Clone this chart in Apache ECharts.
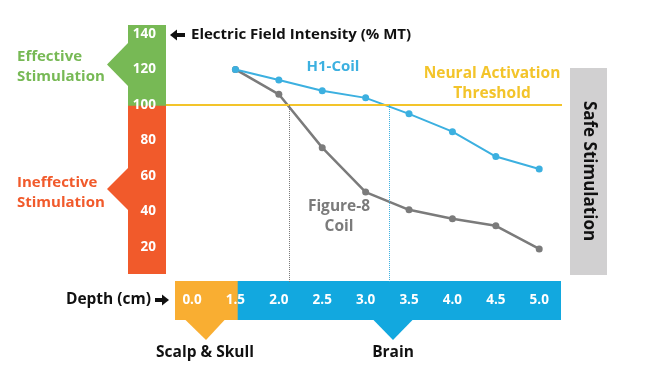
<!DOCTYPE html>
<html>
<head>
<meta charset="utf-8">
<script src="https://cdn.jsdelivr.net/npm/echarts@6/dist/echarts.min.js"></script>
<style>
html,body{margin:0;padding:0;background:#fff}
#chart{width:653px;height:376px}
</style>
</head>
<body>
<div id="chart"></div>
<script>
// depth categories (cm), index used as x position
var depthLabels = ['0.0', '1.5', '2.0', '2.5', '3.0', '3.5', '4.0', '4.5', '5.0'];
var yTicks = [20, 40, 60, 80, 100, 120, 140];
var h1Coil = [null, 120, 114, 108, 104, 95, 85, 71, 64];
var fig8Coil = [null, 120, 106, 76, 51, 41, 36, 32, 19];
var threshold = 100;
// where each coil falls below threshold (x index)
var fig8Cross = 2.23;
var h1Cross = 4.54;

var FONT = '"Open Sans", sans-serif';
var GREEN = '#77b955', RED = '#f15a2b', ORANGE = '#f9ae32', BLUE = '#12a8df',
	YELLOW = '#f3c42a', GRAY = '#7b7b7b', LBLUE = '#3cb0e0';

function toPairs(arr){
	var out = [];
	for(var i = 0; i < arr.length; i++){
		if(arr[i] != null) out.push([i, arr[i]]);
	}
	return out;
}

function txt(x, y, s, color, size, extra){
	var o = {
		type: 'text', x: x, y: y, z: 5,
		style: {
			text: s, fill: color, font: 'bold ' + size + 'px ' + FONT,
			textAlign: 'left', textVerticalAlign: 'middle'
		}
	};
	if(extra){
		for(var k in extra) o.style[k] = extra[k];
	}
	return o;
}
function rect(x, y, w, h, color){
	return { type: 'rect', z: 1, shape: {x: x, y: y, width: w, height: h}, style: {fill: color} };
}
function poly(pts, color){
	return { type: 'polygon', z: 1, shape: {points: pts}, style: {fill: color} };
}

var graphics = [
	// y side band
	rect(128, 25, 38, 81, GREEN),
	rect(128, 105.7, 38, 168.3, RED),
	poly([[128, 43], [107, 64.5], [128, 86]], GREEN),
	poly([[128, 168], [107, 189], [128, 210]], RED),
	txt(17, 57, 'Effective', GREEN, 15),
	txt(17, 77, 'Stimulation', GREEN, 15),
	txt(17, 183, 'Ineffective', RED, 15),
	txt(17, 203, 'Stimulation', RED, 15),
	// title arrow + text
	poly([[170, 35], [177, 29.5], [177, 40.5]], '#111'),
	rect(176, 33, 9, 4, '#111'),
	txt(191, 35, 'Electric Field Intensity (% MT)', '#111', 15),
	// depth bar
	rect(175, 281, 63, 39, ORANGE),
	rect(237.7, 281, 323.3, 39, BLUE),
	poly([[185, 319.5], [225, 319.5], [206, 340]], ORANGE),
	poly([[373, 319.5], [413, 319.5], [393, 340]], BLUE),
	txt(151, 300, 'Depth (cm)', '#111', 15.5, {textAlign: 'right'}),
	rect(155, 298, 8, 4, '#111'),
	poly([[169, 300], [162, 294.5], [162, 305.5]], '#111'),
	txt(205, 353, 'Scalp & Skull', '#111', 15.5, {textAlign: 'center'}),
	txt(393, 353, 'Brain', '#111', 15.5, {textAlign: 'center'}),
	// safe stimulation box
	rect(570, 68, 37, 207, '#d1d0d1'),
	{
		type: 'text', x: 588.5, y: 171, z: 5, rotation: -Math.PI / 2,
		style: {
			text: 'Safe Stimulation', fill: '#111', font: 'bold 17px ' + FONT,
			textAlign: 'center', textVerticalAlign: 'middle'
		}
	},
	// in-plot labels
	txt(333, 67, 'H1-Coil', LBLUE, 15, {textAlign: 'center'}),
	txt(492, 74, 'Neural Activation', YELLOW, 15.5, {textAlign: 'center'}),
	txt(492, 94, 'Threshold', YELLOW, 15.5, {textAlign: 'center'}),
	txt(339, 207, 'Figure-8', GRAY, 15.5, {textAlign: 'center'}),
	txt(339, 227, 'Coil', GRAY, 15.5, {textAlign: 'center'})
];

var option = {
	animation: false,
	backgroundColor: '#fff',
	grid: { left: 166, top: 25, width: 396, height: 257.7 },
	xAxis: {
		type: 'value', min: -0.6, max: 8.525, z: 10,
		axisLine: {show: false}, axisTick: {show: false}, splitLine: {show: false},
		axisLabel: {
			customValues: [0, 1, 2, 3, 4, 5, 6, 7, 8],
			formatter: function(v){ return depthLabels[Math.round(v)]; },
			color: '#fff', fontWeight: 'bold', fontSize: 13.5, fontFamily: FONT, margin: 10
		}
	},
	yAxis: {
		type: 'value', min: 0, max: 145, z: 10,
		axisLine: {show: false}, axisTick: {show: false}, splitLine: {show: false},
		axisLabel: {
			customValues: yTicks,
			color: '#fff', fontWeight: 'bold', fontSize: 13.5, fontFamily: FONT, margin: 10
		}
	},
	graphic: graphics,
	series: [
		{
			type: 'line', name: 'Figure-8 Coil', data: toPairs(fig8Coil), z: 3,
			symbol: 'circle', symbolSize: 7,
			lineStyle: {color: GRAY, width: 2.5}, itemStyle: {color: GRAY},
			markLine: {
				silent: true, symbol: 'none', label: {show: false},
				data: [
					[{coord: [-0.6, threshold], lineStyle: {color: YELLOW, width: 2, type: 'solid'}}, {coord: [8.525, threshold]}],
					[{coord: [fig8Cross, threshold], lineStyle: {color: '#777', width: 1, type: 'dotted'}}, {coord: [fig8Cross, 0]}]
				]
			}
		},
		{
			type: 'line', name: 'H1-Coil', data: toPairs(h1Coil), z: 4,
			symbol: 'circle', symbolSize: 7,
			lineStyle: {color: LBLUE, width: 2}, itemStyle: {color: LBLUE},
			markLine: {
				silent: true, symbol: 'none', label: {show: false},
				data: [
					[{coord: [h1Cross, threshold], lineStyle: {color: LBLUE, width: 1, type: 'dotted'}}, {coord: [h1Cross, 0]}]
				]
			}
		}
	]
};

var chart = echarts.init(document.getElementById('chart'));
chart.setOption(option);
</script>
</body>
</html>
